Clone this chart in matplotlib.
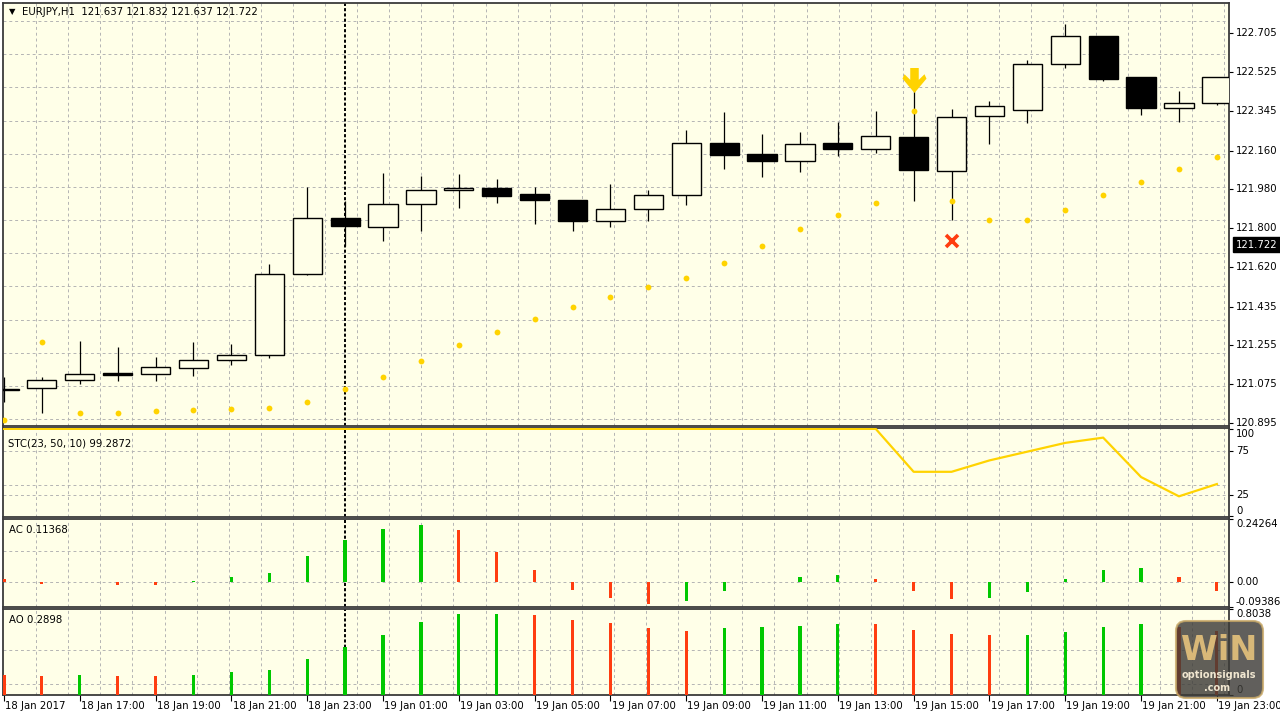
import matplotlib.pyplot as plt
import numpy as np
from matplotlib.path import Path
from matplotlib.patches import FancyBboxPatch
from matplotlib.transforms import IdentityTransform

# --- data (EURJPY H1, 18 Jan 15:00 .. 19 Jan 23:00) ---
opens = [121.045, 121.055, 121.092, 121.127, 121.121, 121.148, 121.186, 121.208, 121.586,
         121.845, 121.805, 121.910, 121.975, 121.987, 121.957, 121.929, 121.833, 121.887,
         121.952, 122.195, 122.143, 122.113, 122.197, 122.167, 122.224, 122.064, 122.319,
         122.349, 122.562, 122.694, 122.503, 122.358, 122.380]
highs = [121.106, 121.109, 121.276, 121.248, 121.199, 121.270, 121.261, 121.631, 121.989,
         121.927, 122.054, 122.043, 122.050, 122.028, 121.989, 121.929, 122.005, 121.977,
         122.257, 122.339, 122.236, 122.245, 122.294, 122.345, 122.449, 122.352, 122.389,
         122.580, 122.750, 122.694, 122.503, 122.438, 122.503]
lows = [120.993, 120.939, 121.076, 121.090, 121.090, 121.113, 121.163, 121.197, 121.580,
        121.716, 121.740, 121.787, 121.892, 121.915, 121.820, 121.787, 121.803, 121.833,
        121.908, 122.073, 122.038, 122.062, 122.133, 122.150, 121.924, 121.837, 122.192,
        122.287, 122.544, 122.483, 122.324, 122.291, 122.373]
closes = [121.054, 121.094, 121.121, 121.115, 121.154, 121.188, 121.208, 121.588, 121.845,
          121.811, 121.910, 121.977, 121.987, 121.947, 121.930, 121.833, 121.888, 121.955,
          122.195, 122.139, 122.111, 122.190, 122.167, 122.229, 122.068, 122.316, 122.366,
          122.564, 122.694, 122.494, 122.358, 122.382, 122.503]
sar = [120.908, 121.270, 120.942, 120.942, 120.948, 120.953, 120.957, 120.963, 120.991,
       121.050, 121.106, 121.182, 121.255, 121.317, 121.377, 121.433, 121.478, 121.527,
       121.566, 121.636, 121.718, 121.795, 121.860, 121.916, 122.344, 121.925, 121.839,
       121.839, 121.884, 121.955, 122.014, 122.074, 122.129]

stc = [100] * 24 + [51, 51, 64, 74, 84, 90, 45, 23, 37]

ac = [0.013, -0.006, 0.003, -0.010, -0.011, 0.004, 0.019, 0.036, 0.103, 0.162, 0.203,
      0.221, 0.199, 0.116, 0.046, -0.027, -0.059, -0.082, -0.072, -0.032, 0.003, 0.019,
      0.027, 0.014, -0.032, -0.063, -0.059, -0.037, 0.014, 0.046, 0.055, 0.019, -0.032]
ac_up = [0, 0, 1, 0, 0, 1, 1, 1, 1, 1, 1, 1, 0, 0, 0, 0, 0, 0, 1, 1, 1, 1, 1, 0, 0, 0,
         1, 1, 1, 1, 1, 0, 0]
ao = [0.189, 0.176, 0.189, 0.176, 0.176, 0.189, 0.211, 0.236, 0.334, 0.445, 0.558, 0.681,
      0.757, 0.757, 0.747, 0.700, 0.669, 0.624, 0.602, 0.624, 0.634, 0.646, 0.659, 0.659,
      0.612, 0.571, 0.558, 0.558, 0.593, 0.634, 0.659, 0.634, 0.602]
ao_up = [0, 0, 1, 0, 0, 1, 1, 1, 1, 1, 1, 1, 1, 1, 0, 0, 0, 0, 0, 1, 1, 1, 1, 0, 0, 0,
         0, 1, 1, 1, 1, 0, 0]

sell_bar, sell_price = 24, 122.490
exit_bar, exit_price = 25, 121.741
cursor_bar = 9

price_ticks = [122.705, 122.525, 122.345, 122.160, 121.980, 121.800, 121.620,
               121.435, 121.255, 121.075, 120.895]
last_price = 121.722
time_labels = ["18 Jan 2017", "18 Jan 17:00", "18 Jan 19:00", "18 Jan 21:00",
               "18 Jan 23:00", "19 Jan 01:00", "19 Jan 03:00", "19 Jan 05:00",
               "19 Jan 07:00", "19 Jan 09:00", "19 Jan 11:00", "19 Jan 13:00",
               "19 Jan 15:00", "19 Jan 17:00", "19 Jan 19:00", "19 Jan 21:00",
               "19 Jan 23:00"]

# --- layout ---
W, H = 1280, 720
BG = '#FFFFE8'
GRID = '#B4B4B4'
GREEN = '#00C800'
RED = '#FF3D10'
GOLD = '#FFD300'
FS = 7.3

plt.rcParams['font.family'] = 'DejaVu Sans'
fig = plt.figure(figsize=(12.8, 7.2), dpi=100, facecolor='white')


def px_rect(x0, y0, x1, y1):
    return [x0 / W, 1 - y1 / H, (x1 - x0) / W, (y1 - y0) / H]


ax_main = fig.add_axes(px_rect(3, 3, 1229, 426))
ax_stc = fig.add_axes(px_rect(3, 428, 1229, 517))
ax_ac = fig.add_axes(px_rect(3, 519, 1229, 607))
ax_ao = fig.add_axes(px_rect(3, 609, 1229, 695))
axes = [ax_main, ax_stc, ax_ac, ax_ao]

x = np.arange(len(opens))
grid_x = np.arange(1, 40) * 0.847   # MT4 grid is pixel based (~32 px)

for ax in axes:
    ax.set_facecolor(BG)
    ax.set_xlim(-0.026, 32.32)
    for s in ax.spines.values():
        s.set_color('#3a3a3a')
        s.set_linewidth(1.3)
    ax.tick_params(axis='y', left=False, right=True, labelleft=False, labelright=False,
                   length=3, width=0.8, color='black')
    ax.tick_params(axis='x', bottom=False, labelbottom=False)
    for gx in grid_x:
        ax.axvline(gx, color=GRID, lw=0.7, ls=(0, (3, 3)), zorder=0)
    ax.axvline(cursor_bar, color='black', lw=1.4, ls=(0, (1.6, 1.1)), zorder=1)

ylab = ax_main.get_yaxis_transform()

# --- main price panel ---
ax_main.set_ylim(120.880, 122.846)
for k in range(13):
    ax_main.axhline(122.762 - 0.15418 * k, color=GRID, lw=0.7, ls=(0, (3, 3)), zorder=0)

ax_main.vlines(x, lows, highs, color='black', lw=0.9, zorder=2)
o = np.array(opens)
c = np.array(closes)
bull = c >= o
body_h = np.maximum(np.abs(c - o), 0.004)
ax_main.bar(x, body_h, bottom=np.minimum(o, c), width=0.77,
            color=np.where(bull, BG, 'black'), edgecolor='black', linewidth=1.0, zorder=3)
ax_main.plot(x, sar, 'o', color=GOLD, ms=4.2, mec='none', zorder=4)

arrow = Path([(-0.34, 1), (0.34, 1), (0.34, 0.05), (0.8, 0.5), (0.96, 0.15), (0, -1),
              (-0.96, 0.15), (-0.8, 0.5), (-0.34, 0.05), (-0.34, 1)])
ax_main.plot(sell_bar, sell_price, marker=arrow, ms=18, color=GOLD, mec='none', zorder=5)
ax_main.plot(exit_bar, exit_price, marker='x', ms=8, mew=2.6, color=RED, zorder=5)

ax_main.set_yticks(price_ticks)
for p in price_ticks:
    ax_main.text(1.0057, p, f"{p:.3f}", transform=ylab, va='center', ha='left', fontsize=FS)
ax_main.text(1.0057, last_price, f"{last_price:.3f}", transform=ylab, va='center', ha='left',
             fontsize=FS, color='white',
             bbox=dict(boxstyle='square,pad=0.25', fc='black', ec='black'))

fig.text(9 / W, 1 - 12 / H, "\u25bc", fontsize=6, va='center', ha='left')
fig.text(22 / W, 1 - 12 / H, "EURJPY,H1  121.637 121.832 121.637 121.722",
         fontsize=FS, va='center', ha='left')

# --- STC panel ---
ax_stc.set_ylim(-0.6, 101)
for lv in [75, 36, 25]:
    ax_stc.axhline(lv, color=GRID, lw=0.7, ls=(0, (3, 3)), zorder=0)
ax_stc.plot(x, stc, color=GOLD, lw=1.6, zorder=3)
ax_stc.set_yticks([100, 75, 25, 0])
st = ax_stc.get_yaxis_transform()
for v, va in [(100, 'top'), (75, 'center'), (25, 'center'), (0, 'bottom')]:
    ax_stc.text(1.0057, v, str(v), transform=st, va=va, ha='left', fontsize=FS)
fig.text(8 / W, 1 - 443 / H, "STC(23, 50, 10) 99.2872", fontsize=FS, va='center')

# --- AC panel ---
ax_ac.set_ylim(-0.09386, 0.24264)
for lv in [0, 0.1205]:
    ax_ac.axhline(lv, color=GRID, lw=0.7, ls=(0, (3, 3)), zorder=0)
ax_ac.bar(x, ac, width=0.085, color=[GREEN if u else RED for u in ac_up], zorder=3)
ax_ac.set_yticks([0.24264, 0.0, -0.09386])
at = ax_ac.get_yaxis_transform()
for v, s, va in [(0.24264, "0.24264", 'top'), (0.0, "0.00", 'center'),
                 (-0.09386, "-0.09386", 'bottom')]:
    ax_ac.text(1.0057, v, s, transform=at, va=va, ha='left', fontsize=FS)
fig.text(9 / W, 1 - 530 / H, "AC 0.11368", fontsize=FS, va='center')

# --- AO panel ---
ax_ao.set_ylim(0, 0.8038)
for lv in [0.103, 0.416]:
    ax_ao.axhline(lv, color=GRID, lw=0.7, ls=(0, (3, 3)), zorder=0)
ax_ao.bar(x, ao, width=0.085, color=[GREEN if u else RED for u in ao_up], zorder=3)
ax_ao.set_yticks([0.8038, 0])
ot = ax_ao.get_yaxis_transform()
ax_ao.text(1.0057, 0.8038, "0.8038", transform=ot, va='top', ha='left', fontsize=FS)
ax_ao.text(1.0057, 0, "0", transform=ot, va='bottom', ha='left', fontsize=FS)
fig.text(9 / W, 1 - 620 / H, "AO 0.2898", fontsize=FS, va='center')

ax_ao.set_xticks(x[::2])
ax_ao.tick_params(axis='x', bottom=True, length=4, width=0.8, color='black')
xt = ax_ao.get_xaxis_transform()
for xi, lab in zip(x[::2], time_labels):
    ax_ao.text(xi + 0.03, -0.13, lab, transform=xt, va='center', ha='left', fontsize=FS,
               clip_on=False)

# --- watermark logo ---
logo = FancyBboxPatch((1176, H - 698), 87, 77, boxstyle='round,pad=0,rounding_size=10',
                      transform=IdentityTransform(), fc='#3e3c38', ec='#c8a866', lw=1.5,
                      alpha=0.82, zorder=10)
fig.add_artist(logo)
fig.text(1219 / W, 1 - 651 / H, "WiN", fontsize=24, fontweight='bold', color='#d8b878',
         ha='center', va='center', zorder=11)
fig.text(1219 / W, 1 - 675 / H, "optionsignals", fontsize=7, color='#f0e6d0',
         ha='center', va='center', zorder=11, fontweight='bold')
fig.text(1217 / W, 1 - 688 / H, ".com", fontsize=7, color='#f0e6d0',
         ha='center', va='center', zorder=11, fontweight='bold')

fig.savefig("out.png", dpi=100, facecolor='white')
